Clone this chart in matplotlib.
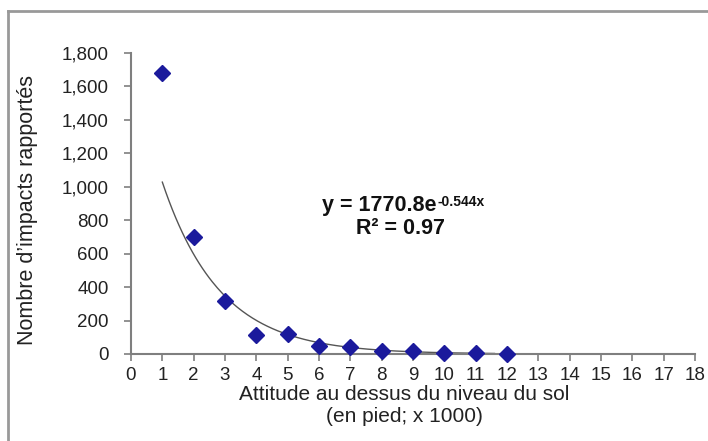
import numpy as np
import matplotlib
matplotlib.use("Agg")
import matplotlib.pyplot as plt
from matplotlib.ticker import FuncFormatter

plt.rcParams['font.family'] = ['Liberation Sans', 'DejaVu Sans']

# data
altitude = [1, 2, 3, 4, 5, 6, 7, 8, 9, 10, 11, 12]
impacts = [1680, 700, 318, 115, 120, 48, 40, 15, 15, 8, 5, 2]
fit_a = 1770.8
fit_b = -0.544
fit_range = (1, 11.6)
x_ticks = list(range(0, 19))
y_ticks = [0, 200, 400, 600, 800, 1000, 1200, 1400, 1600, 1800]

fig = plt.figure(figsize=(7.08, 4.41), dpi=100)
ax = fig.add_axes([131/708, 1 - 354/441, (695-131)/708, (354-53)/441])

xs = np.linspace(fit_range[0], fit_range[1], 200)
ax.plot(xs, fit_a * np.exp(fit_b * xs), color='#555555', lw=1.0, zorder=2)
ax.plot(altitude, impacts, linestyle='none', marker='D', markersize=8,
        color='#1b1a9c', zorder=3, clip_on=False)

ax.set_xlim(0, 18)
ax.set_ylim(0, 1800)
ax.set_xticks(x_ticks)
ax.set_yticks(y_ticks)
ax.yaxis.set_major_formatter(FuncFormatter(lambda v, p: f"{int(v):,}"))
for s in ['top', 'right']:
    ax.spines[s].set_visible(False)
for s in ['left', 'bottom']:
    ax.spines[s].set_color('#7f7f7f')
    ax.spines[s].set_linewidth(1.5)
ax.tick_params(axis='both', colors='#7f7f7f', labelcolor='#222222',
               labelsize=13.5, length=5, width=1.2, direction='out')
ax.tick_params(axis='y', pad=11)
ax.tick_params(axis='x', pad=4)

fig.text(28/708, 1 - 210/441, "Nombre d\u2019impacts rapportés", rotation=90,
         ha='center', va='center', fontsize=15.5, color='#222222')
fig.text(404/708, 1 - 394/441, "Attitude au dessus du niveau du sol",
         ha='center', va='center', fontsize=15, color='#222222')
fig.text(404/708, 1 - 416/441, "(en pied; x 1000)",
         ha='center', va='center', fontsize=15, color='#222222')

eq_main = fig.text(322/708, 1 - 205/441, 'y = 1770.8e', fontweight='bold',
                   ha='left', va='center', fontsize=15.5, color='#111111')
fig.text(400/708, 1 - 229/441, 'R\u00b2 = 0.97', fontweight='bold',
         ha='center', va='center', fontsize=15.5, color='#111111')
fig.canvas.draw()
bb = eq_main.get_window_extent(renderer=fig.canvas.get_renderer())
fig.text((bb.x1 + 1) / 708, (bb.y1 - 7) / 441, '-0.544x', fontweight='bold',
         ha='left', va='center', fontsize=10, color='#111111')

# frame lines (top and left)
fig.add_artist(plt.Line2D([8/708, 8/708], [0, 1 - 11/441], transform=fig.transFigure,
                          color='#999999', lw=2))
fig.add_artist(plt.Line2D([8/708, 1], [1 - 11/441, 1 - 11/441], transform=fig.transFigure,
                          color='#999999', lw=2))

fig.savefig('out.png', dpi=100)
